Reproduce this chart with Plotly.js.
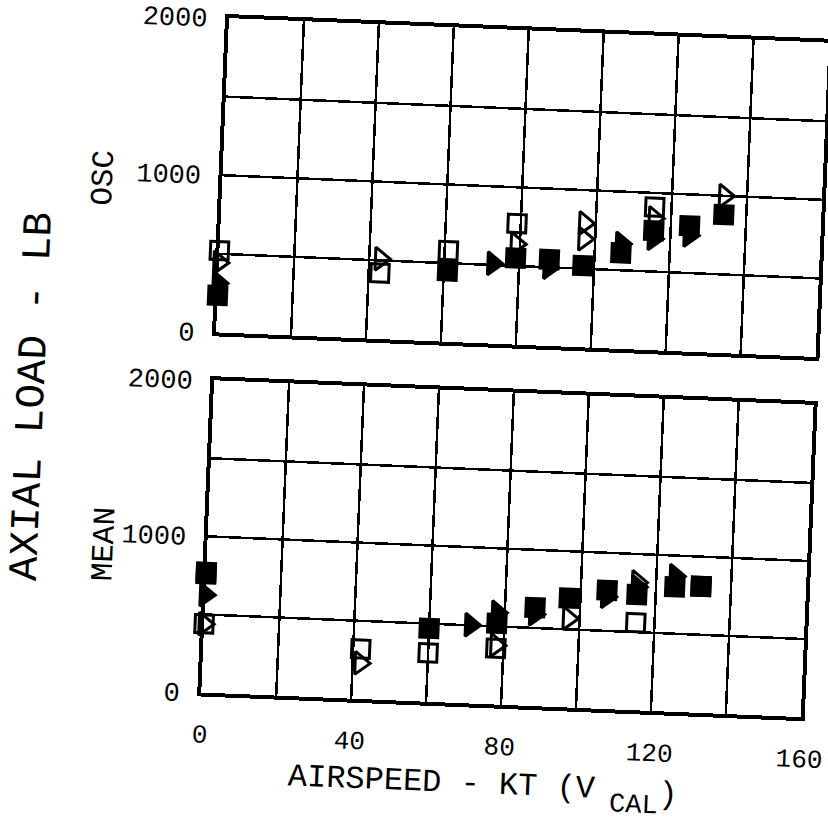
<!DOCTYPE html>
<html>
<head>
<meta charset="utf-8">
<script src="https://cdn.plot.ly/plotly-3.0.1.min.js"></script>
<style>
  html, body { margin:0; padding:0; background:#fff; overflow:hidden; width:828px; height:822px; }
  #chart { width:900px; height:822px; transform: rotate(2.35deg); transform-origin: 414px 411px; }
</style>
</head>
<body>
<div id="chart"></div>
<script>
// ---------- data (airspeed kt, axial load lb) ----------
// OSC panel
const oscOpenSqX   = [0, 43, 61, 79, 115.5];
const oscOpenSqY   = [520, 420, 580, 770, 910];
const oscOpenTriX  = [0, 43, 79, 97, 97, 115.5, 134];
const oscOpenTriY  = [445, 510, 640, 790, 690, 840, 1000];
const oscFillSqX   = [0, 61, 79, 88, 97, 107, 115.5, 125, 134];
const oscFillSqY   = [235, 450, 550, 550, 520, 610, 760, 800, 880];
const oscFillTriX  = [0, 73, 88, 107, 115.5, 125];
const oscFillTriY  = [315, 510, 500, 670, 710, 740];
// MEAN panel
const meanOpenSqX  = [0, 0, 42, 60, 78, 115, 132];
const meanOpenSqY  = [760, 440, 320, 313, 360, 560, 810];
const meanOpenTriX = [0, 42, 78, 97, 115];
const meanOpenTriY = [440, 230, 380, 570, 820];
const meanFillSqX  = [0, 60, 78, 88, 97, 107, 115, 125, 132];
const meanFillSqY  = [770, 470, 520, 630, 700, 760, 740, 800, 810];
const meanFillTriX = [0, 71, 78, 88, 107, 115, 125];
const meanFillTriY = [626, 503, 590, 590, 720, 790, 870];

const xTickVals = [0, 20, 40, 60, 80, 100, 120, 140, 160];
const xTickText = ['0', '', '40', '', '80', '', '120', '', '160'];
const yTickVals = [0, 500, 1000, 1500, 2000];
const yTickText = ['0', '', '1000', '', '2000'];

// ---------- traces ----------
function tr(x, y, sym, xa, ya, size) {
  return {
    x: x, y: y, type: 'scatter', mode: 'markers', xaxis: xa, yaxis: ya,
    cliponaxis: false, hoverinfo: 'skip',
    marker: { symbol: sym, size: size, color: 'black', line: { color: 'black', width: 3 } }
  };
}
const data = [
  tr(oscOpenSqX,  oscOpenSqY,  'square-open',         'x2', 'y2', 18),
  tr(oscOpenTriX, oscOpenTriY, 'triangle-right-open', 'x2', 'y2', 20),
  tr(oscFillSqX,  oscFillSqY,  'square',              'x2', 'y2', 18),
  tr(oscFillTriX, oscFillTriY, 'triangle-right',      'x2', 'y2', 20),
  tr(meanOpenSqX,  meanOpenSqY,  'square-open',         'x', 'y', 18),
  tr(meanOpenTriX, meanOpenTriY, 'triangle-right-open', 'x', 'y', 20),
  tr(meanFillSqX,  meanFillSqY,  'square',              'x', 'y', 18),
  tr(meanFillTriX, meanFillTriY, 'triangle-right',      'x', 'y', 20)
];

const FONT = 'Liberation Mono, Courier New, monospace';
function xAxis(extra) {
  return Object.assign({
    range: [0, 160], tickvals: xTickVals, ticktext: xTickText,
    showgrid: true, gridcolor: 'black', gridwidth: 2.5,
    showline: true, linecolor: 'black', linewidth: 4, mirror: true,
    zeroline: false, ticks: '', fixedrange: true,
    ticklabeloverflow: 'allow',
    tickfont: { family: FONT, size: 26, color: 'black' }
  }, extra);
}
function yAxis(extra) {
  return Object.assign({
    range: [0, 2000], tickvals: yTickVals, ticktext: yTickText,
    showgrid: true, gridcolor: 'black', gridwidth: 2.5,
    showline: true, linecolor: 'black', linewidth: 4, mirror: true,
    zeroline: false, ticks: '', fixedrange: true,
    ticklabeloverflow: 'allow',
    tickfont: { family: FONT, size: 27, color: 'black' },
    ticklabelstandoff: 12
  }, extra);
}

const layout = {
  width: 900, height: 822,
  margin: { l: 213, r: 87, t: 26, b: 121 },
  paper_bgcolor: 'white', plot_bgcolor: 'white',
  showlegend: false,
  font: { family: FONT, color: 'black' },
  xaxis:  xAxis({ domain: [0, 1], anchor: 'y', ticklabelstandoff: 15 }),
  yaxis:  yAxis({ domain: [0, 0.463], anchor: 'x' }),
  xaxis2: xAxis({ domain: [0, 1], anchor: 'y2', showticklabels: false }),
  yaxis2: yAxis({ domain: [0.534, 1], anchor: 'x2' }),
  annotations: [
    { text: 'AXIAL LOAD - LB', xref: 'paper', yref: 'paper', x: -0.302, y: 0.4286,
      textangle: -90, showarrow: false, xanchor: 'center', yanchor: 'middle',
      font: { family: FONT, size: 41, color: 'black' } },
    { text: 'OSC', xref: 'paper', yref: 'paper', x: -0.197, y: 0.7557,
      textangle: -90, showarrow: false, xanchor: 'center', yanchor: 'middle',
      font: { family: FONT, size: 31, color: 'black' } },
    { text: 'MEAN', xref: 'paper', yref: 'paper', x: -0.1713, y: 0.2139,
      textangle: -90, showarrow: false, xanchor: 'center', yanchor: 'middle',
      font: { family: FONT, size: 31, color: 'black' } },
    { text: 'AIRSPEED - KT (V', xref: 'paper', yref: 'paper', x: 0.4067, y: -0.1193,
      showarrow: false, xanchor: 'center', yanchor: 'middle',
      font: { family: FONT, size: 32, color: 'black' } },
    { text: 'CAL', xref: 'paper', yref: 'paper', x: 0.7267, y: -0.140,
      showarrow: false, xanchor: 'center', yanchor: 'middle', borderpad: 0,
      font: { family: FONT, size: 27, color: 'black' } },
    { text: ')', xref: 'paper', yref: 'paper', x: 0.7842, y: -0.123,
      showarrow: false, xanchor: 'center', yanchor: 'middle',
      font: { family: FONT, size: 32, color: 'black' } }
  ]
};

Plotly.newPlot('chart', data, layout, { displayModeBar: false, staticPlot: true });
</script>
</body>
</html>
